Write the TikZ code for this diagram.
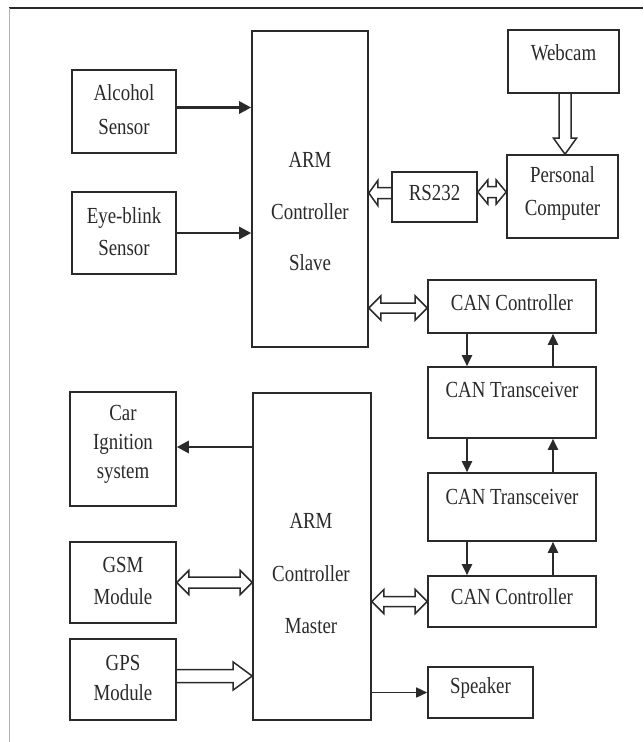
\documentclass[tikz,border=0pt]{standalone}
\usepackage{fontspec}
\setmainfont[FakeStretch=0.82]{Liberation Serif}
\usetikzlibrary{arrows.meta,calc,fit}
\definecolor{ink}{HTML}{2A2A2A}
\begin{document}
\begin{tikzpicture}[x=1pt,y=-1pt,
  box/.style={draw=ink, line width=1.6pt, inner sep=0pt},
  txt/.style={text=ink, align=center, inner sep=0pt, font=\fontsize{23}{32}\selectfont},
  sarrow/.style={draw=ink, line width=2.8pt, -{Triangle[length=12pt,width=12pt]}},
  carrow/.style={draw=ink, line width=2pt, -{Triangle[length=11pt,width=10pt]}},
  tarrow/.style={draw=ink, line width=1.6pt, -{Triangle[length=11pt,width=10pt]}},
  hw/.store in=\hw, hH/.store in=\hH, hl/.store in=\hl, hw=5.5pt, hH=12pt, hl=12pt,
  hollow/.style={draw=ink, line width=1.5pt, line join=miter},
  one/.style={hollow, to path={let \p1=(\tikztostart), \p2=(\tikztotarget), \n1={atan2(\y2-\y1,\x2-\x1)} in
    ($(\p1)+({\n1+90}:\hw)$) -- ($(\p2)+({\n1+180}:\hl)+({\n1+90}:\hw)$)
    -- ($(\p2)+({\n1+180}:\hl)+({\n1+90}:\hH)$) -- (\p2)
    -- ($(\p2)+({\n1+180}:\hl)+({\n1-90}:\hH)$) -- ($(\p2)+({\n1+180}:\hl)+({\n1-90}:\hw)$)
    -- ($(\p1)+({\n1-90}:\hw)$)}},
  two/.style={hollow, to path={let \p1=(\tikztostart), \p2=(\tikztotarget), \n1={atan2(\y2-\y1,\x2-\x1)} in
    ($(\p1)+({\n1}:\hl)+({\n1+90}:\hw)$) -- ($(\p2)+({\n1+180}:\hl)+({\n1+90}:\hw)$)
    -- ($(\p2)+({\n1+180}:\hl)+({\n1+90}:\hH)$) -- (\p2)
    -- ($(\p2)+({\n1+180}:\hl)+({\n1-90}:\hH)$) -- ($(\p2)+({\n1+180}:\hl)+({\n1-90}:\hw)$)
    -- ($(\p1)+({\n1}:\hl)+({\n1-90}:\hw)$) -- ($(\p1)+({\n1}:\hl)+({\n1-90}:\hH)$)
    -- (\p1) -- ($(\p1)+({\n1}:\hl)+({\n1+90}:\hH)$) -- cycle}}
]
\useasboundingbox (0,0) rectangle (643,742);
\fill[white] (0,0) rectangle (643,742);
% frame
\draw[ink, line width=2.5pt] (9,8) -- (643,8);
\draw[gray!60, line width=1pt] (9,8) -- (9,742);

% boxes
\node[box, fit={(72,70) (176,153)}] (alc) {};
\node[box, fit={(72,192) (176,274)}] (eye) {};
\node[box, fit={(252,31) (368,347)}] (slave) {};
\node[box, fit={(508,30) (619,93)}] (web) {};
\node[box, fit={(507,155) (618,238)}] (pc) {};
\node[box, fit={(392,172) (477,222)}] (rs) {};
\node[box, fit={(428,280) (596,333)}] (can1) {};
\node[box, fit={(428,367) (596,438)}] (tr1) {};
\node[box, fit={(428,473) (596,541)}] (tr2) {};
\node[box, fit={(428,576) (596,627)}] (can2) {};
\node[box, fit={(253,393) (371,720)}] (master) {};
\node[box, fit={(70,392) (176,506)}] (ign) {};
\node[box, fit={(70,542) (176,623)}] (gsm) {};
\node[box, fit={(70,639) (176,720)}] (gps) {};
\node[box, fit={(428,667) (533,718)}] (spk) {};

% texts
\node[txt, font=\fontsize{23}{34}\selectfont] (alct) at (124,110) {Alcohol\\Sensor};
\node[txt] (eyet) at (124,232) {Eye-blink\\Sensor};
\node[txt, font=\fontsize{23}{51.5}\selectfont] (slavet) at (310,212) {ARM\\Controller\\Slave};
\node[txt] (webt) at (563.5,53) {Webcam};
\node[txt, font=\fontsize{23}{33}\selectfont] (pct) at (562.5,193.5) {Personal\\Computer};
\node[txt] (rst) at (434.5,193) {RS232};
\node[txt] (can1t) at (512,303) {CAN Controller};
\node[txt] (tr1t) at (512,390) {CAN Transceiver};
\node[txt] (tr2t) at (512,497) {CAN Transceiver};
\node[txt] (can2t) at (512,597) {CAN Controller};
\node[txt, font=\fontsize{23}{52.5}\selectfont] (mastert) at (311,574) {ARM\\Controller\\Master};
\node[txt, font=\fontsize{23}{29}\selectfont] (ignt) at (123,444) {Car\\Ignition\\system};
\node[txt] (gsmt) at (123,581) {GSM\\Module};
\node[txt, font=\fontsize{23}{30}\selectfont] (gpst) at (123,678) {GPS\\Module};
\node[txt] (spkt) at (480.5,688) {Speaker};

% solid arrows
\draw[sarrow] ([yshift=4pt]alc.east) -- ([yshift=4pt]alc.east -| slave.west);
\draw[sarrow, line width=2.4pt] (eye.east) -- (eye.east -| slave.west);
\draw[sarrow] ([yshift=2pt]ign.east -| master.west) -- ([yshift=2pt]ign.east);
\draw[tarrow] (spk.west -| master.east) -- (spk.west);
\draw[carrow] ([xshift=-45pt]can1.south) -- ([xshift=-45pt]tr1.north);
\draw[carrow] ([xshift=41pt]tr1.north) -- ([xshift=41pt]can1.south);
\draw[carrow] ([xshift=-45pt]tr1.south) -- ([xshift=-45pt]tr2.north);
\draw[carrow] ([xshift=41pt]tr2.north) -- ([xshift=41pt]tr1.south);
\draw[carrow] ([xshift=-45pt]tr2.south) -- ([xshift=-45pt]can2.north);
\draw[carrow] ([xshift=41pt]can2.north) -- ([xshift=41pt]tr2.south);

% hollow arrows
\draw[one, hw=6pt, hH=11.5pt, hl=16pt] ([xshift=1.5pt]web.south) to ([xshift=1.5pt]web.south |- pc.north);
\draw[one, hw=5.5pt, hH=12.5pt, hl=9pt] ([yshift=4pt]rs.west) to ([yshift=4pt]rs.west -| slave.east);
\draw[two, hw=5.5pt, hH=12pt, hl=10pt] ([yshift=5pt]rs.east) to ([yshift=5pt]rs.east -| pc.west);
\draw[two, hw=5pt, hH=12pt, hl=12pt] ([yshift=-1.5pt]can1.west -| slave.east) to ([yshift=-1.5pt]can1.west);
\draw[two, hw=5pt, hH=12pt, hl=12pt] (can2.west -| master.east) to (can2.west);
\draw[two, hw=5.5pt, hH=12pt, hl=12pt] (gsm.east) to (gsm.east -| master.west);
\draw[one, hw=6.5pt, hH=14pt, hl=19pt] ([yshift=3.5pt]gps.east) to ([yshift=3.5pt]gps.east -| master.west);
\end{tikzpicture}
\end{document}
